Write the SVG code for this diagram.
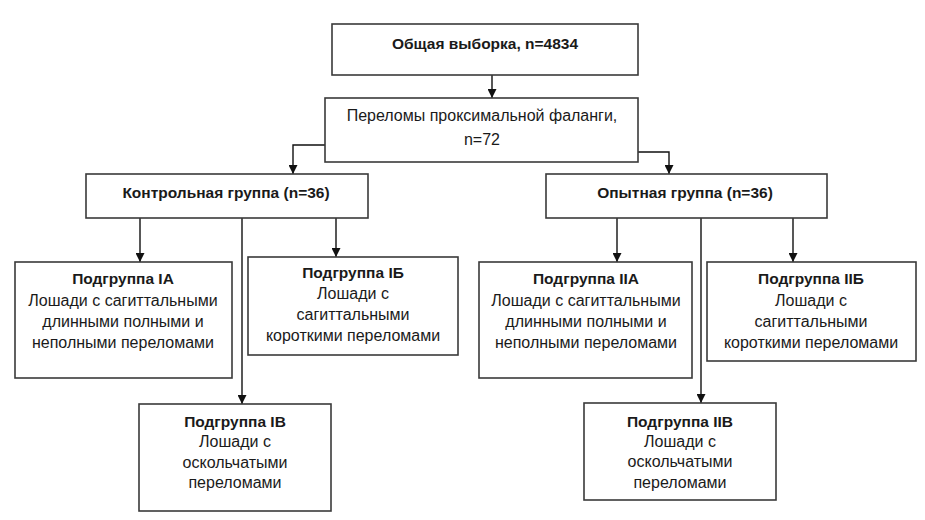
<svg xmlns="http://www.w3.org/2000/svg" width="925" height="520" viewBox="0 0 925 520">
<style>
.box{fill:#fff;stroke:#3a3a3a;stroke-width:1.6}
.t{font-family:"Liberation Sans",Arial,sans-serif;font-size:16px;fill:#1a1a1a;text-anchor:middle}
.b{font-weight:bold;font-size:15.5px}
.c{fill:none;stroke:#111;stroke-width:1.4;marker-end:url(#ah)}
</style>
<defs>
<marker id="ah" viewBox="0 0 10 10" refX="10" refY="5" markerWidth="9" markerHeight="9" markerUnits="userSpaceOnUse" orient="auto">
<path d="M0,0 L10,5 L0,10 z" fill="#111"/>
</marker>
</defs>
<rect width="925" height="520" fill="#fff"/>
<g id="connectors">
<path class="c" d="M492,75 V98"/>
<path class="c" d="M325,145 H293 V174"/>
<path class="c" d="M638,152 H669 V174"/>
<path class="c" d="M140,218 V262"/>
<path class="c" d="M242,218 V404"/>
<path class="c" d="M336,218 V257"/>
<path class="c" d="M617,218 V262"/>
<path class="c" d="M701,218 V403"/>
<path class="c" d="M793,218 V262"/>
</g>
<g id="total">
<rect class="box" x="332" y="24" width="306" height="51"/>
<text class="t b" x="485" y="49">Общая выборка, n=4834</text>
</g>
<g id="fractures">
<rect class="box" x="325" y="98" width="313" height="64"/>
<text class="t" x="482" y="121">Переломы проксимальной фаланги,</text>
<text class="t" x="482" y="145">n=72</text>
</g>
<g id="control">
<rect class="box" x="86" y="174" width="282" height="44"/>
<text class="t b" x="226" y="198">Контрольная группа (n=36)</text>
</g>
<g id="experimental">
<rect class="box" x="546" y="174" width="281" height="44"/>
<text class="t b" x="685" y="198">Опытная группа (n=36)</text>
</g>
<g id="IA">
<rect class="box" x="15" y="262" width="217" height="116"/>
<text class="t b" x="123" y="284">Подгруппа IA</text>
<text class="t" x="123" y="306">Лошади с сагиттальными</text>
<text class="t" x="123" y="327">длинными полными и</text>
<text class="t" x="123" y="348">неполными переломами</text>
</g>
<g id="IB">
<rect class="box" x="248" y="257" width="210" height="98"/>
<text class="t b" x="353" y="278">Подгруппа IБ</text>
<text class="t" x="353" y="299">Лошади с</text>
<text class="t" x="353" y="320">сагиттальными</text>
<text class="t" x="353" y="341">короткими переломами</text>
</g>
<g id="IV">
<rect class="box" x="139" y="404" width="192" height="107"/>
<text class="t b" x="235" y="427">Подгруппа IВ</text>
<text class="t" x="235" y="447">Лошади с</text>
<text class="t" x="235" y="468">оскольчатыми</text>
<text class="t" x="235" y="488">переломами</text>
</g>
<g id="IIA">
<rect class="box" x="479" y="262" width="213" height="116"/>
<text class="t b" x="586" y="284">Подгруппа IIA</text>
<text class="t" x="586" y="306">Лошади с сагиттальными</text>
<text class="t" x="586" y="327">длинными полными и</text>
<text class="t" x="586" y="348">неполными переломами</text>
</g>
<g id="IIB">
<rect class="box" x="707" y="262" width="209" height="99"/>
<text class="t b" x="811" y="284">Подгруппа IIБ</text>
<text class="t" x="811" y="306">Лошади с</text>
<text class="t" x="811" y="327">сагиттальными</text>
<text class="t" x="811" y="348">короткими переломами</text>
</g>
<g id="IIV">
<rect class="box" x="584" y="403" width="192" height="97"/>
<text class="t b" x="680" y="427">Подгруппа IIВ</text>
<text class="t" x="680" y="447">Лошади с</text>
<text class="t" x="680" y="467">оскольчатыми</text>
<text class="t" x="680" y="488">переломами</text>
</g>
</svg>
